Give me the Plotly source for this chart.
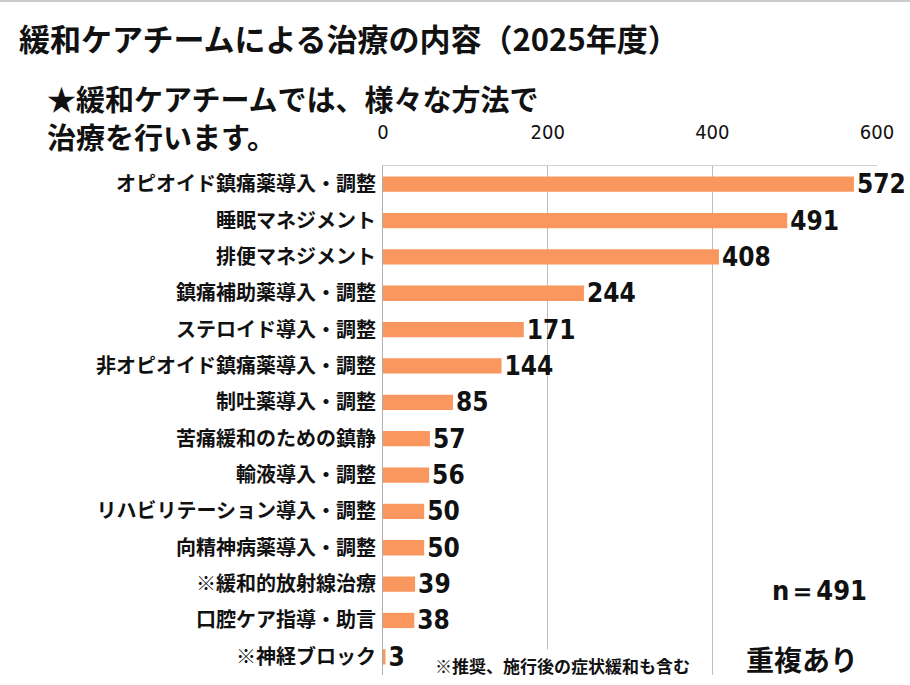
import plotly.graph_objects as go

categories = [
    "オピオイド鎮痛薬導入・調整",
    "睡眠マネジメント",
    "排便マネジメント",
    "鎮痛補助薬導入・調整",
    "ステロイド導入・調整",
    "非オピオイド鎮痛薬導入・調整",
    "制吐薬導入・調整",
    "苦痛緩和のための鎮静",
    "輸液導入・調整",
    "リハビリテーション導入・調整",
    "向精神病薬導入・調整",
    "※緩和的放射線治療",
    "口腔ケア指導・助言",
    "※神経ブロック",
]
values = [572, 491, 408, 244, 171, 144, 85, 57, 56, 50, 50, 39, 38, 3]
x_ticks = [0, 200, 400, 600]

title_text = "緩和ケアチームによる治療の内容（2025年度）"
subtitle_lines = ["★緩和ケアチームでは、様々な方法で", "治療を行います。"]
n_text = "n＝491"
dup_text = "重複あり"
note_text = "※推奨、施行後の症状緩和も含む"

W, H = 910, 685
L, R, T, B = 383, 877, 166, 675
JP = "Noto Sans CJK JP, Noto Sans, sans-serif"
NUM = "Liberation Sans Narrow, DejaVu Sans Condensed, Roboto, sans-serif"


def px(x):
    return (x - L) / (R - L)


def py(y):
    return (B - y) / (B - T)


fig = go.Figure()
fig.add_trace(go.Bar(
    y=categories,
    x=values,
    orientation="h",
    marker=dict(color="#F9975F", line=dict(width=0)),
    width=0.42,
    text=[str(v) for v in values],
    textposition="outside",
    constraintext="none",
    cliponaxis=False,
    textfont=dict(family=NUM, size=26, color="#111111", weight="bold"),
    hoverinfo="skip",
))

fig.update_layout(
    width=W, height=H,
    margin=dict(l=L, r=W - R, t=T, b=H - B, pad=0),
    paper_bgcolor="white",
    plot_bgcolor="white",
    showlegend=False,
    xaxis=dict(
        side="top",
        range=[0, 600],
        tickvals=x_ticks,
        ticktext=[str(t) for t in x_ticks],
        tickfont=dict(family=NUM, size=20, color="#111111"),
        showgrid=True,
        gridcolor="#BDBDBD",
        gridwidth=1,
        zeroline=False,
        showline=True,
        linecolor="#D0D0D0",
        linewidth=1,
        ticks="",
        ticklabelstandoff=18,
        fixedrange=True,
    ),
    yaxis=dict(
        categoryorder="array",
        categoryarray=categories,
        autorange="reversed",
        tickfont=dict(family=JP, size=20, color="#111111", weight="bold"),
        showgrid=False,
        showline=True,
        linecolor="#AFAFAF",
        linewidth=1,
        ticks="",
        ticklabelstandoff=2,
        fixedrange=True,
    ),
)

annotations = [
    dict(text=title_text, x=px(18), y=py(38), xanchor="left", yanchor="middle",
         font=dict(family=JP, size=31, color="#111111", weight="bold")),
    dict(text=subtitle_lines[0], x=px(46), y=py(98), xanchor="left", yanchor="middle",
         font=dict(family=JP, size=29, color="#111111", weight="bold")),
    dict(text=subtitle_lines[1], x=px(46), y=py(136), xanchor="left", yanchor="middle",
         font=dict(family=JP, size=29, color="#111111", weight="bold")),
    dict(text=n_text, x=px(868), y=py(590), xanchor="right", yanchor="middle",
         font=dict(family=NUM, size=27, color="#111111", weight="bold")),
    dict(text=dup_text, x=px(802), y=py(659), xanchor="center", yanchor="middle",
         bgcolor="white", borderpad=8,
         font=dict(family=JP, size=28, color="#111111", weight="bold")),
    dict(text=note_text, x=px(562), y=py(665), xanchor="center", yanchor="middle",
         bgcolor="white", borderpad=3,
         font=dict(family=JP, size=17, color="#111111", weight="bold")),
]
for a in annotations:
    a.update(xref="paper", yref="paper", showarrow=False, borderpad=a.get("borderpad", 0))
    fig.add_annotation(**a)

fig.add_shape(type="line", xref="paper", yref="paper",
              x0=px(0), x1=px(W), y0=py(1), y1=py(1),
              line=dict(color="#CCCCCC", width=2))

fig.write_html("out.html")
